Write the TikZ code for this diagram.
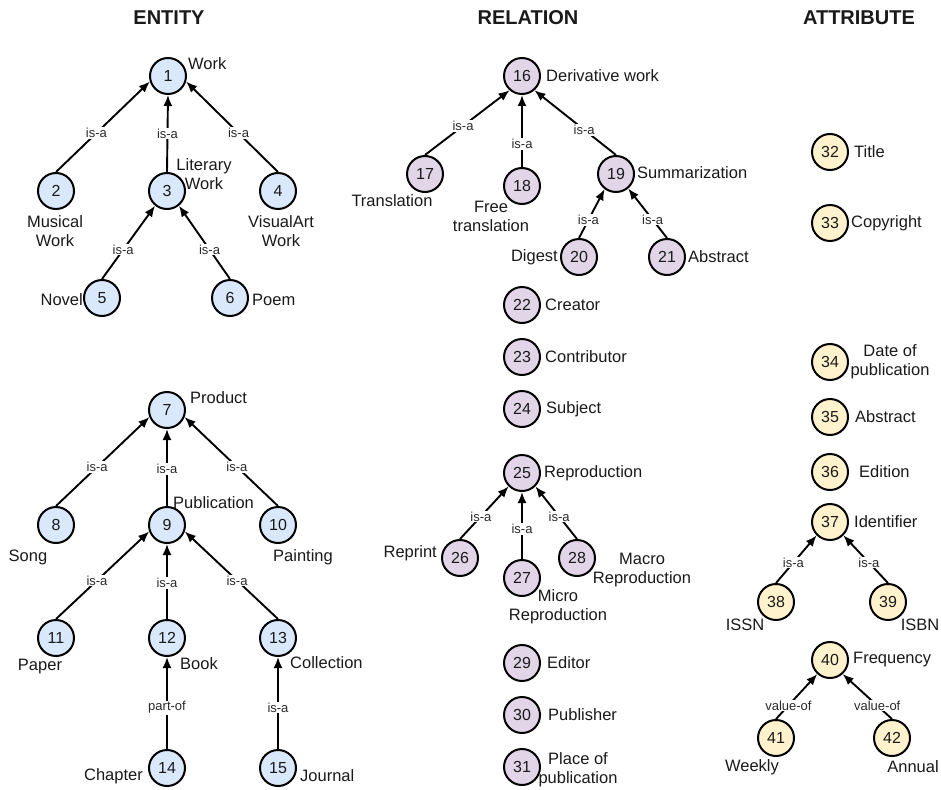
\documentclass[tikz,border=0pt]{standalone}
\usepackage{fontspec}
\setmainfont{Liberation Sans}
\usetikzlibrary{arrows.meta}
\definecolor{entfill}{HTML}{DAE8FC}
\definecolor{relfill}{HTML}{E1D5E7}
\definecolor{attfill}{HTML}{FFF2CC}
\definecolor{txt}{HTML}{1A1A1A}
\definecolor{etxt}{HTML}{2A2A2A}
\begin{document}
\begin{tikzpicture}[x=1pt,y=-1pt,
  nd/.style={circle,draw=black,line width=2pt,minimum size=36pt,inner sep=0pt,font=\fontsize{16}{18}\selectfont,text=txt},
  ent/.style={nd,fill=entfill},
  rel/.style={nd,fill=relfill},
  att/.style={nd,fill=attfill},
  lab/.style={inner sep=0pt,font=\fontsize{16.5}{19}\selectfont,text=txt,align=center},
  elab/.style={fill=white,inner sep=1pt,font=\fontsize{13}{15}\selectfont,text=etxt},
  conn/.style={line width=1.9pt,-{Latex[length=11pt,width=9pt]}},
  ttl/.style={font=\fontsize{20}{24}\selectfont\bfseries,text=txt}]
\useasboundingbox[fill=white] (0,0) rectangle (941,789);

% titles
\node[ttl] (tE) at (169,18) {ENTITY};
\node[ttl] (tR) at (528,18) {RELATION};
\node[ttl] (tA) at (859,18) {ATTRIBUTE};

% ---------- ENTITY tree 1
\node[ent] (n1) at (168,76) {1};
\node[ent] (n2) at (56,191) {2};
\node[ent] (n3) at (167,191) {3};
\node[ent] (n4) at (278,191) {4};
\node[ent] (n5) at (102,298) {5};
\node[ent] (n6) at (230,298) {6};
\node[lab,anchor=west] (l1) at (188,64) {Work};
\node[lab] (l2) at (55,231) {Musical\\Work};
\node[lab] (l3) at (204,174) {Literary\\Work};
\node[lab] (l4) at (281,231) {VisualArt\\Work};
\node[lab,anchor=east] (l5) at (83,300) {Novel};
\node[lab,anchor=west] (l6) at (252,300) {Poem};
\draw[conn] (n2.north) -- node[elab,pos=.43]{is-a} (n1.197);
\draw[conn] (n3.north) -- node[elab,pos=.5]{is-a} (n1.south);
\draw[conn] (n4.north) -- node[elab,pos=.43]{is-a} (n1.343);
\draw[conn] (n5.north) -- node[elab,pos=.4]{is-a} (n3.231);
\draw[conn] (n6.north) -- node[elab,pos=.4]{is-a} (n3.309);

% ---------- ENTITY tree 2
\node[ent] (n7) at (167,410) {7};
\node[ent] (n8) at (56,525) {8};
\node[ent] (n9) at (167,525) {9};
\node[ent] (n10) at (278,525) {10};
\node[ent] (n11) at (56,638) {11};
\node[ent] (n12) at (167,638) {12};
\node[ent] (n13) at (278,638) {13};
\node[ent] (n14) at (167,768) {14};
\node[ent] (n15) at (278,768) {15};
\node[lab,anchor=west] (l7) at (190,398) {Product};
\node[lab] (l8) at (28,557) {Song};
\node[lab,anchor=west] (l9) at (173,503) {Publication};
\node[lab] (l10) at (303,557) {Painting};
\node[lab] (l11) at (40,667) {Paper};
\node[lab,anchor=west] (l12) at (180,664) {Book};
\node[lab,anchor=west] (l13) at (290,663) {Collection};
\node[lab,anchor=east] (l14) at (143,776) {Chapter};
\node[lab,anchor=west] (l15) at (300,776) {Journal};
\draw[conn] (n8.north) -- node[elab,pos=.44]{is-a} (n7.202);
\draw[conn] (n9.north) -- node[elab,pos=.48]{is-a} (n7.south);
\draw[conn] (n10.north) -- node[elab,pos=.44]{is-a} (n7.338);
\draw[conn] (n11.north) -- node[elab,pos=.44]{is-a} (n9.200);
\draw[conn] (n12.north) -- node[elab,pos=.48]{is-a} (n9.south);
\draw[conn] (n13.north) -- node[elab,pos=.44]{is-a} (n9.340);
\draw[conn] (n14.north) -- node[elab,pos=.45]{part-of} (n12.south);
\draw[conn] (n15.north) -- node[elab,pos=.45]{is-a} (n13.south);

% ---------- RELATION
\node[rel] (n16) at (522,76) {16};
\node[rel] (n17) at (425,174) {17};
\node[rel] (n18) at (522,186) {18};
\node[rel] (n19) at (616,174) {19};
\node[rel] (n20) at (579,257) {20};
\node[rel] (n21) at (667,257) {21};
\node[rel] (n22) at (522,305) {22};
\node[rel] (n23) at (522,357) {23};
\node[rel] (n24) at (522,409) {24};
\node[rel] (n25) at (522,473) {25};
\node[rel] (n26) at (460,558) {26};
\node[rel] (n27) at (522,578) {27};
\node[rel] (n28) at (577,558) {28};
\node[rel] (n29) at (522,663) {29};
\node[rel] (n30) at (522,715) {30};
\node[rel] (n31) at (522,767) {31};
\node[lab,anchor=west] (l16) at (546,76) {Derivative work};
\node[lab] (l17) at (392,201) {Translation};
\node[lab] (l18) at (491,216) {Free\\translation};
\node[lab,anchor=west] (l19) at (637,173) {Summarization};
\node[lab,anchor=east] (l20) at (558,257) {Digest};
\node[lab,anchor=west] (l21) at (688,257) {Abstract};
\node[lab,anchor=west] (l22) at (545,305) {Creator};
\node[lab,anchor=west] (l23) at (545,357) {Contributor};
\node[lab,anchor=west] (l24) at (546,409) {Subject};
\node[lab,anchor=west] (l25) at (544,473) {Reproduction};
\node[lab,anchor=east] (l26) at (437,553) {Reprint};
\node[lab] (l27) at (558,607) {Micro\\Reproduction};
\node[lab] (l28) at (642,570) {Macro\\Reproduction};
\node[lab,anchor=west] (l29) at (547,663) {Editor};
\node[lab,anchor=west] (l30) at (548,715) {Publisher};
\node[lab] (l31) at (578,770) {Place of\\publication};
\draw[conn] (n17.north) -- node[elab,pos=.45]{is-a} (n16.229);
\draw[conn] (n18.north) -- node[elab,pos=.32]{is-a} (n16.south);
\draw[conn] (n19.north) -- node[elab,pos=.39]{is-a} (n16.311);
\draw[conn] (n20.north) -- node[elab,pos=.37]{is-a} (n19.233);
\draw[conn] (n21.north) -- node[elab,pos=.37]{is-a} (n19.310);
\draw[conn] (n26.north) -- node[elab,pos=.43]{is-a} (n25.225);
\draw[conn] (n27.north) -- node[elab,pos=.45]{is-a} (n25.south);
\draw[conn] (n28.north) -- node[elab,pos=.43]{is-a} (n25.315);

% ---------- ATTRIBUTE
\node[att] (n32) at (830,152) {32};
\node[att] (n33) at (830,223) {33};
\node[att] (n34) at (830,362) {34};
\node[att] (n35) at (830,417) {35};
\node[att] (n36) at (830,472) {36};
\node[att] (n37) at (830,522) {37};
\node[att] (n38) at (776,602) {38};
\node[att] (n39) at (888,602) {39};
\node[att] (n40) at (830,660) {40};
\node[att] (n41) at (776,738) {41};
\node[att] (n42) at (892,738) {42};
\node[lab,anchor=west] (l32) at (854,152) {Title};
\node[lab,anchor=west] (l33) at (851,223) {Copyright};
\node[lab] (l34) at (890,362) {Date of\\publication};
\node[lab,anchor=west] (l35) at (855,417) {Abstract};
\node[lab,anchor=west] (l36) at (859,472) {Edition};
\node[lab,anchor=west] (l37) at (854,522) {Identifier};
\node[lab] (l38) at (745,625) {ISSN};
\node[lab] (l39) at (920,625) {ISBN};
\node[lab,anchor=west] (l40) at (853,660) {Frequency};
\node[lab] (l41) at (752,767) {Weekly};
\node[lab] (l42) at (913,767) {Annual};
\draw[conn] (n38.north) -- node[elab,pos=.43]{is-a} (n37.225);
\draw[conn] (n39.north) -- node[elab,pos=.43]{is-a} (n37.315);
\draw[conn] (n41.north) -- node[elab,pos=.3]{value-of} (n40.228);
\draw[conn] (n42.north) -- node[elab,pos=.3]{value-of} (n40.312);
\end{tikzpicture}
\end{document}
